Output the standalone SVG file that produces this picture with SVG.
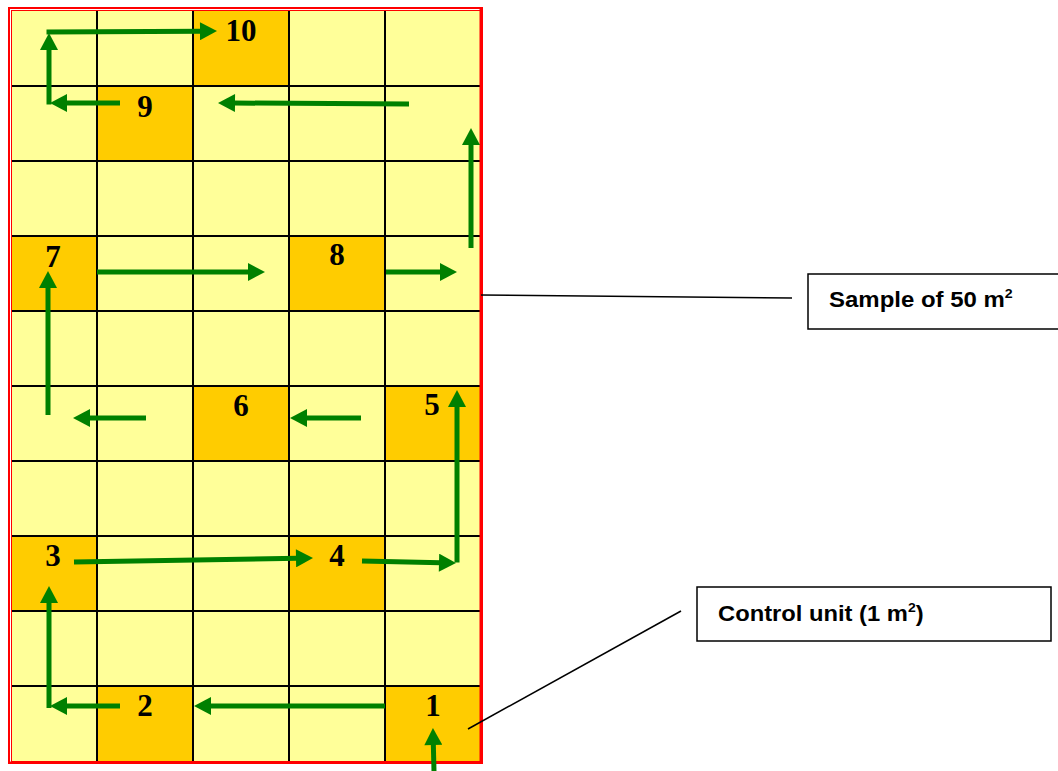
<svg xmlns="http://www.w3.org/2000/svg" width="1058" height="771" viewBox="0 0 1058 771">
<style>
.cell{fill:#FFFF99}
.hot{fill:#FFCC00}
.grid{stroke:#000;stroke-width:2;fill:none}
.num{font-family:"Liberation Serif","Times New Roman",serif;font-weight:bold;font-size:31px;fill:#000;text-anchor:middle}
.arr{stroke:#008000;stroke-width:5;fill:none;marker-end:url(#ah)}
.lbl{font-family:"Liberation Sans",Arial,sans-serif;font-weight:bold;font-size:22px;fill:#000}
.box{fill:#fff;stroke:#000;stroke-width:1.5}
.lead{stroke:#000;stroke-width:1.5;fill:none}
</style>
<defs>
<marker id="ah" markerUnits="userSpaceOnUse" markerWidth="18" markerHeight="18" refX="2" refY="9" orient="auto" viewBox="0 0 17 18">
<path d="M0,0 L17,9 L0,18 z" fill="#008000"/>
</marker>
</defs>
<rect width="1058" height="771" fill="#fff"/>
<g id="plot">
<rect class="cell" x="12" y="11" width="468" height="750"/>
<rect class="hot" x="193" y="11" width="96" height="75"/>
<rect class="hot" x="97" y="86" width="96" height="75"/>
<rect class="hot" x="12" y="236" width="85" height="75"/>
<rect class="hot" x="289" y="236" width="96" height="75"/>
<rect class="hot" x="193" y="386" width="96" height="75"/>
<rect class="hot" x="385" y="386" width="95" height="75"/>
<rect class="hot" x="12" y="536" width="85" height="75"/>
<rect class="hot" x="289" y="536" width="96" height="75"/>
<rect class="hot" x="97" y="686" width="96" height="75"/>
<rect class="hot" x="385" y="686" width="95" height="75"/>
<path class="grid" d="M97,11V761M193,11V761M289,11V761M385,11V761M12,86H480M12,161H480M12,236H480M12,311H480M12,386H480M12,461H480M12,536H480M12,611H480M12,686H480"/>
<rect x="9" y="8" width="473" height="755" fill="none" stroke="#FF0000" stroke-width="2"/>
<rect x="11.5" y="10.5" width="469" height="751" fill="none" stroke="#FF0000" stroke-width="1"/>
<path d="M481,8V763" stroke="#FF0000" stroke-width="3"/>
<path d="M9,762.5H482" stroke="#FF0000" stroke-width="2"/>
</g>
<g id="labels">
<text class="num" x="241" y="41">10</text>
<text class="num" x="145" y="117">9</text>
<text class="num" x="53" y="267">7</text>
<text class="num" x="337" y="265">8</text>
<text class="num" x="241" y="416">6</text>
<text class="num" x="432" y="415">5</text>
<text class="num" x="53" y="566">3</text>
<text class="num" x="337" y="566">4</text>
<text class="num" x="145" y="716">2</text>
<text class="num" x="433" y="716">1</text>
</g>
<g id="connectors">
<line class="arr" x1="434" y1="771" x2="433.3" y2="743"/>
<line class="arr" x1="385" y1="706" x2="209" y2="706"/>
<line class="arr" x1="120" y1="706" x2="65" y2="706"/>
<line class="arr" x1="49" y1="708" x2="49" y2="601"/>
<line class="arr" x1="74" y1="562" x2="298" y2="558.3"/>
<line class="arr" x1="362" y1="561" x2="441" y2="562.7"/>
<line class="arr" x1="457" y1="562.5" x2="457" y2="405"/>
<line class="arr" x1="361" y1="418" x2="305" y2="418"/>
<line class="arr" x1="146" y1="418" x2="88" y2="418"/>
<line class="arr" x1="48" y1="415" x2="48" y2="286"/>
<line class="arr" x1="97" y1="272" x2="250" y2="272"/>
<line class="arr" x1="386" y1="272" x2="442" y2="272"/>
<line class="arr" x1="471" y1="248" x2="471" y2="143"/>
<line class="arr" x1="409" y1="104" x2="233" y2="103"/>
<line class="arr" x1="120" y1="103" x2="65" y2="103"/>
<line class="arr" x1="49" y1="104.5" x2="49" y2="48"/>
<line class="arr" x1="46.5" y1="32" x2="202" y2="31.2"/>
<line class="lead" x1="481" y1="295" x2="792" y2="298"/>
<line class="lead" x1="468" y1="729" x2="681" y2="611"/>
</g>
<g id="sample-box">
<rect class="box" x="808" y="274" width="260" height="55"/>
<g transform="translate(829,307) scale(1.09,1)">
<text class="lbl" x="0" y="0">Sample of 50 m<tspan font-size="13" dy="-9">2</tspan></text>
</g>
</g>
<g id="control-box">
<rect class="box" x="697" y="587" width="354" height="54"/>
<g transform="translate(718,621) scale(1.08,1)">
<text class="lbl" x="0" y="0">Control unit (1 m<tspan font-size="13" dy="-9">2</tspan><tspan dy="9">)</tspan></text>
</g>
</g>
</svg>
